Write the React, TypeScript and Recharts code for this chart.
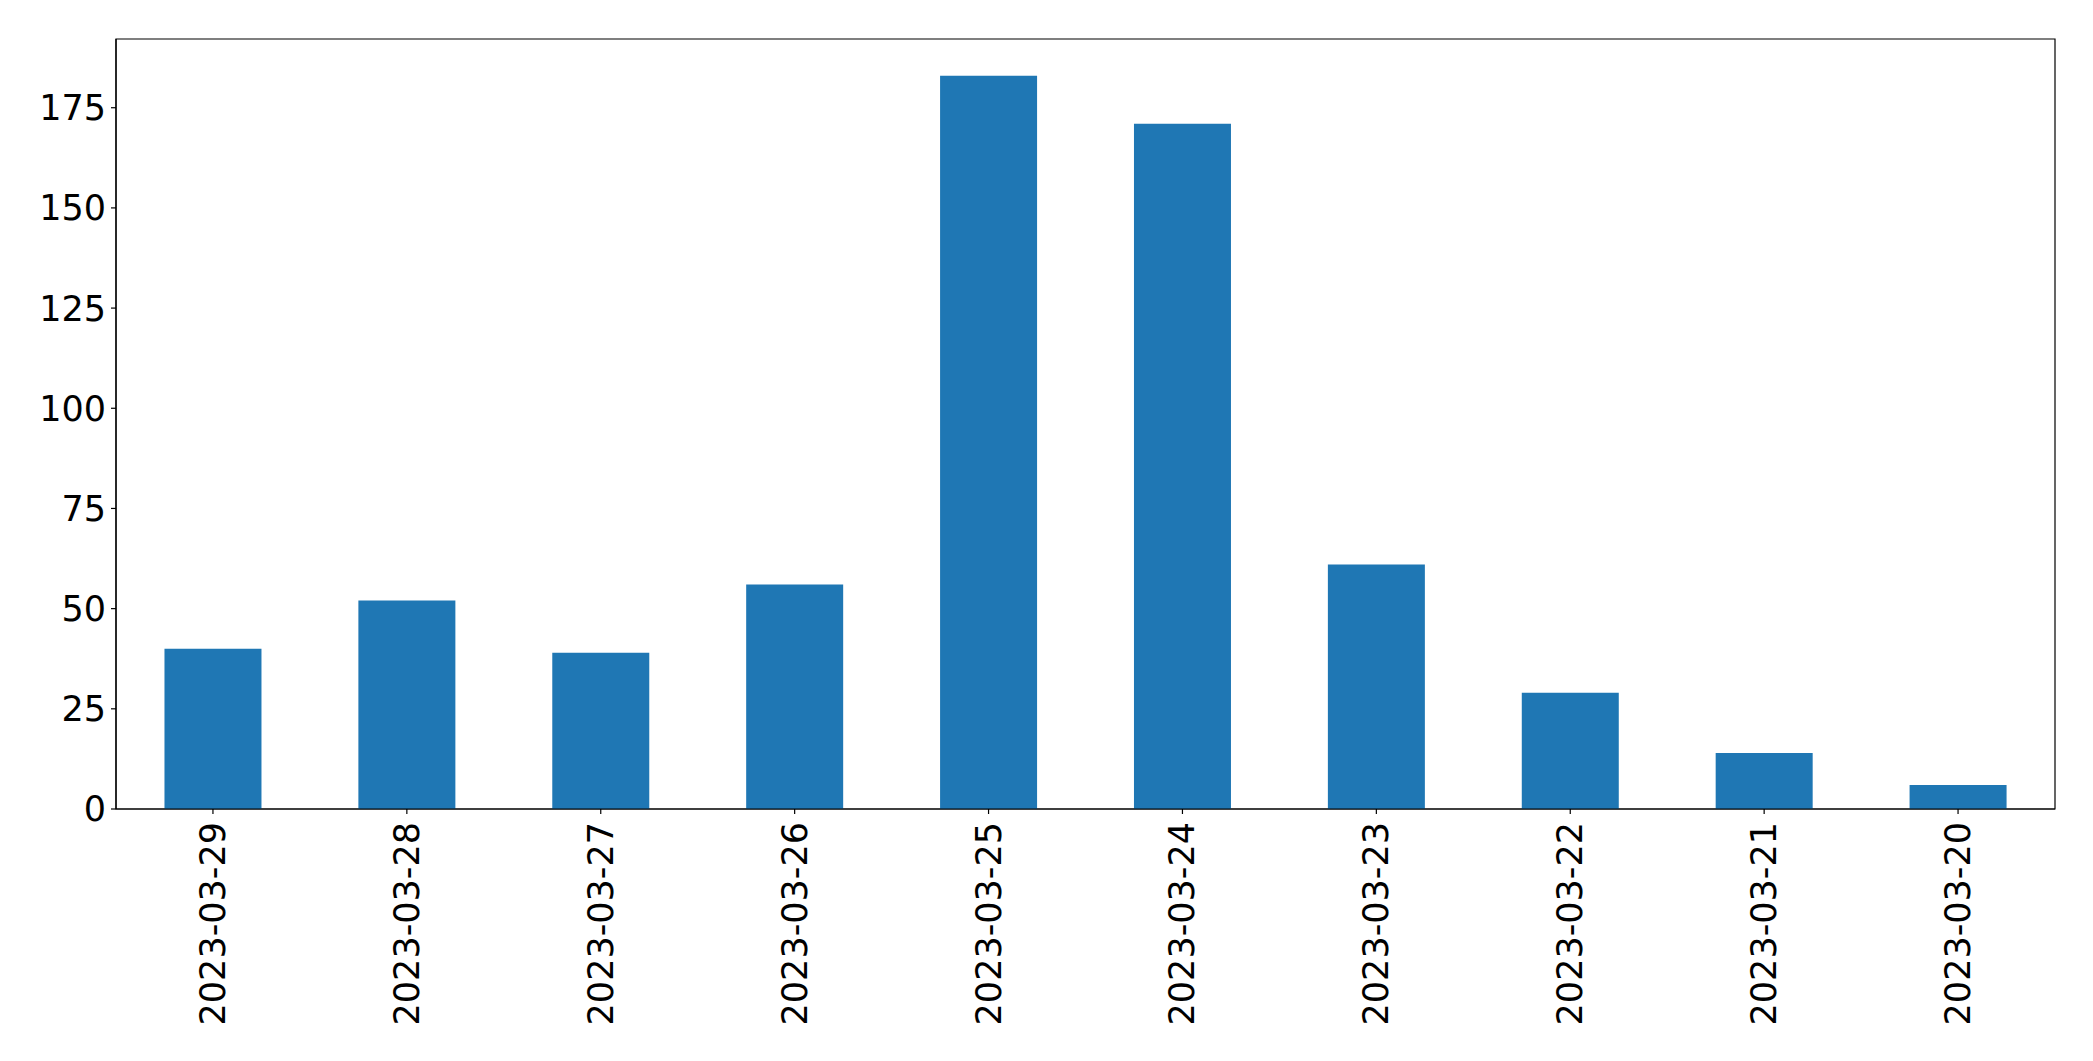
import { BarChart, Bar, XAxis, YAxis, ReferenceArea } from "recharts";

const dates = [
  "2023-03-29", "2023-03-28", "2023-03-27", "2023-03-26", "2023-03-25",
  "2023-03-24", "2023-03-23", "2023-03-22", "2023-03-21", "2023-03-20",
];
const counts = [40, 52, 39, 56, 183, 171, 61, 29, 14, 6];
const yTicks = [0, 25, 50, 75, 100, 125, 150, 175];
const yMax = 192.15;

const data = dates.map((d, i) => ({ date: d, count: counts[i] }));

const FONT = "'DejaVu Sans', sans-serif";

function DateTick({ x, y, payload }: { x?: number; y?: number; payload?: { value: string } }) {
  return (
    <text
      x={x}
      y={y}
      transform={`rotate(-90, ${x}, ${y})`}
      textAnchor="end"
      dominantBaseline="central"
      fontSize={35}
      fontFamily={FONT}
      fill="#000"
    >
      {payload?.value}
    </text>
  );
}

export default function App() {
  return (
    <div style={{ position: "absolute", left: 0, top: 0, background: "#fff" }}>
      <BarChart
        width={2093}
        height={1061}
        data={data}
        margin={{ top: 39, right: 38, left: 0, bottom: 0 }}
        barCategoryGap="25%"
      >
        <XAxis
          dataKey="date"
          height={252}
          tick={<DateTick />}
          tickSize={5}
          tickMargin={8}
          interval={0}
          axisLine={{ stroke: "#000", strokeWidth: 1.2 }}
          tickLine={{ stroke: "#000", strokeWidth: 1.2 }}
        />
        <YAxis
          width={116}
          domain={[0, yMax]}
          ticks={yTicks}
          allowDataOverflow
          tickSize={5}
          tickMargin={5}
          tick={{ fontSize: 35, fontFamily: FONT, fill: "#000" }}
          axisLine={{ stroke: "#000", strokeWidth: 1.2 }}
          tickLine={{ stroke: "#000", strokeWidth: 1.2 }}
        />
        <Bar dataKey="count" fill="#1f77b4" isAnimationActive={false} />
        <ReferenceArea y1={0} y2={yMax} fill="none" stroke="#000" strokeWidth={1.2} ifOverflow="visible" />
      </BarChart>
    </div>
  );
}
